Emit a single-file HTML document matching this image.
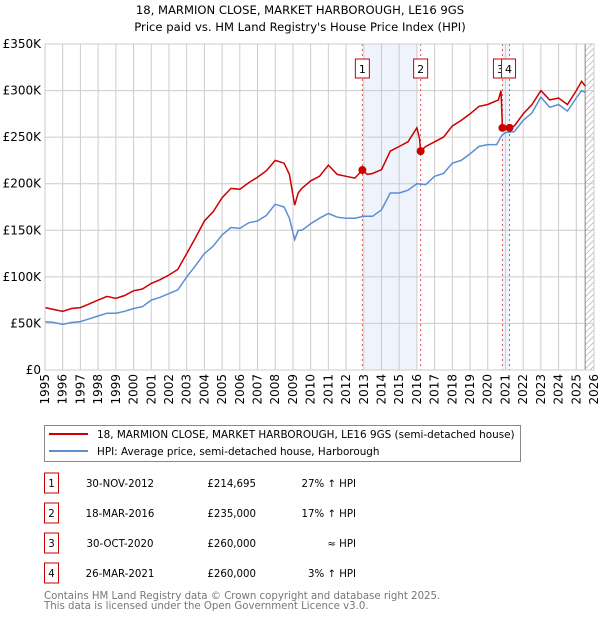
<!DOCTYPE html>
<html><head><meta charset="utf-8"><style>
body{margin:0;background:#fff;font-family:"DejaVu Sans","Liberation Sans",sans-serif;}
svg{display:block}
</style></head><body>
<svg id="c" width="600" height="620" xmlns="http://www.w3.org/2000/svg" font-family="DejaVu Sans, Liberation Sans, sans-serif">
<text x="300" y="14" text-anchor="middle" font-size="11.6">18, MARMION CLOSE, MARKET HARBOROUGH, LE16 9GS</text>
<text x="300" y="31" text-anchor="middle" font-size="11.6">Price paid vs. HM Land Registry's House Price Index (HPI)</text>
<g id="plot"></g>
<g>
<rect x="44.5" y="425.5" width="476" height="36" fill="#fff" stroke="#888"/>
<line x1="49" y1="434" x2="88" y2="434" stroke="#cc0000" stroke-width="2"/>
<text x="97" y="438" font-size="10.4">18, MARMION CLOSE, MARKET HARBOROUGH, LE16 9GS (semi-detached house)</text>
<line x1="49" y1="451" x2="88" y2="451" stroke="#5b8fd4" stroke-width="2"/>
<text x="97" y="455" font-size="10.4">HPI: Average price, semi-detached house, Harborough</text>
</g>
<g id="table" font-size="10.2"></g>
<text x="44" y="599" font-size="10.2" fill="#777">Contains HM Land Registry data © Crown copyright and database right 2025.</text>
<text x="44" y="609" font-size="10.2" fill="#777">This data is licensed under the Open Government Licence v3.0.</text>
</svg>
<script>
const yTicks=[0,50,100,150,200,250,300,350];
const years=[1995,1996,1997,1998,1999,2000,2001,2002,2003,2004,2005,2006,2007,2008,2009,2010,2011,2012,2013,2014,2015,2016,2017,2018,2019,2020,2021,2022,2023,2024,2025,2026];
const hpiT=[1995,1995.5,1996,1996.5,1997,1997.5,1998,1998.5,1999,1999.5,2000,2000.5,2001,2001.5,2002,2002.5,2003,2003.5,2004,2004.5,2005,2005.5,2006,2006.5,2007,2007.5,2008,2008.5,2008.8,2009.1,2009.3,2009.5,2010,2010.5,2011,2011.5,2012,2012.5,2013,2013.5,2014,2014.5,2015,2015.5,2016,2016.5,2017,2017.5,2018,2018.5,2019,2019.5,2020,2020.5,2020.8,2021,2021.5,2022,2022.5,2023,2023.5,2024,2024.5,2025,2025.3,2025.5];
const hpiV=[52,51,49,51,52,55,58,61,61,63,66,68,75,78,82,86,100,112,125,133,145,153,152,158,160,166,178,175,163,140,150,150,157,163,168,164,163,163,165,165,172,190,190,193,200,199,208,211,222,225,232,240,242,242,252,255,256,268,276,293,282,285,278,292,300,298];
const priceT=[1995,1995.5,1996,1996.5,1997,1997.5,1998,1998.5,1999,1999.5,2000,2000.5,2001,2001.5,2002,2002.5,2003,2003.5,2004,2004.5,2005,2005.5,2006,2006.5,2007,2007.5,2008,2008.5,2008.8,2009.1,2009.3,2009.5,2010,2010.5,2011,2011.5,2012,2012.5,2012.92,2013.2,2013.5,2014,2014.5,2015,2015.5,2016,2016.15,2016.21,2016.5,2017,2017.5,2018,2018.5,2019,2019.5,2020,2020.6,2020.75,2020.83,2021.23,2021.5,2022,2022.5,2023,2023.5,2024,2024.5,2025,2025.3,2025.5];
const priceV=[67,65,63,66,67,71,75,79,77,80,85,87,93,97,102,108,125,142,160,170,185,195,194,201,207,214,225,222,210,177,190,195,203,208,220,210,208,206,214.7,210,211,215,235,240,245,260,248,235,240,245,250,262,268,275,283,285,290,300,260,260,262,275,285,300,290,292,285,300,310,305];
const saleLabels=["1","2","3","4"];
const saleT=[2012.92,2016.21,2020.83,2021.23];
const saleV=[214.695,235,260,260];
const saleDates=["30-NOV-2012","18-MAR-2016","30-OCT-2020","26-MAR-2021"];
const salePrices=["£214,695","£235,000","£260,000","£260,000"];
const saleHpi=["27% ↑ HPI","17% ↑ HPI","≈ HPI","3% ↑ HPI"];
const NS="http://www.w3.org/2000/svg";
const L=45,R=594,T=44,B=370;
const x=t=>L+(t-1995)/(2026-1995)*(R-L);
const y=v=>B-v/350*(B-T);
function mk(tag,at,parent){const e=document.createElementNS(NS,tag);for(const k in at)e.setAttribute(k,at[k]);parent.appendChild(e);return e;}
const P=document.getElementById('plot');
let s=mk('rect',{x:x(2013),y:T,width:x(2016)-x(2013),height:B-T,fill:'#eef3fc'},P);


s=mk('rect',{x:x(2020.83),y:T,width:x(2021.23)-x(2020.83),height:B-T,fill:'#eef3fc'},P);


const defs=mk('defs',{},P);
const pat=mk('pattern',{id:'h',width:6,height:6,patternUnits:'userSpaceOnUse'},defs);
mk('path',{d:'M0,6 L6,0',stroke:'#bbb','stroke-width':0.8},pat);
s=mk('rect',{x:x(2025.5),y:T,width:R-x(2025.5),height:B-T,fill:'url(#h)'},P);


yTicks.forEach(v=>{
 const g=mk('line',{x1:L,x2:R,y1:y(v),y2:y(v),stroke:'#ccc'},P);
 
 
 const t=mk('text',{x:L-4,y:y(v)+4,'text-anchor':'end','font-size':12},P);
 t.textContent=v===0?'£0':'£'+v+'K';
 
 
});
years.forEach(yr=>{
 const g=mk('line',{x1:x(yr),x2:x(yr),y1:T,y2:B,stroke:'#ccc'},P);
 
 
 const t=mk('text',{transform:`translate(${x(yr)+4},${B+4}) rotate(-90)`,'text-anchor':'end','font-size':12},P);
 t.textContent=yr;
 
 
});
const ln=mk('line',{x1:x(2025.5),x2:x(2025.5),y1:T,y2:B,stroke:'#888'},P);


saleT.forEach((t,i)=>{
 const l=mk('line',{x1:x(t),x2:x(t),y1:T,y2:B,stroke:'#e05050','stroke-dasharray':'2,3'},P);
 
 
});
let d=hpiT.map((t,i)=>(i?'L':'M')+x(t).toFixed(1)+','+y(hpiV[i]).toFixed(1)).join('');
let p=mk('path',{d,fill:'none',stroke:'#5b8fd4','stroke-width':1.5},P);


d=priceT.map((t,i)=>(i?'L':'M')+x(t).toFixed(1)+','+y(priceV[i]).toFixed(1)).join('');
p=mk('path',{d,fill:'none',stroke:'#cc0000','stroke-width':1.5},P);


saleT.forEach((t,i)=>{
 const c=mk('circle',{cx:x(t),cy:y(saleV[i]),r:4,fill:'#cc0000'},P);
 
 
 const bx=x(t)-7+(i===2?-2:0)+(i===3?-1:0);
 const r=mk('rect',{x:bx,y:59,width:14,height:19,fill:'#fff',stroke:'#cc0000'},P);
 
 
 const tx=mk('text',{x:bx+7,y:73,'text-anchor':'middle','font-size':11},P);
 tx.textContent=saleLabels[i];
 
 
});
mk('rect',{x:L,y:T,width:R-L,height:B-T,fill:'none',stroke:'#ccc'},P);
const TB=document.getElementById('table');
saleLabels.forEach((lab,i)=>{
 const cy=483+i*30;
 const r=mk('rect',{x:44.5,y:cy-10,width:14,height:20,fill:'#fff',stroke:'#cc0000'},TB);
 
 
 let t=mk('text',{x:51.5,y:cy+4,'text-anchor':'middle'},TB);t.textContent=lab;
 
 
 t=mk('text',{x:120,y:cy+4,'text-anchor':'middle'},TB);t.textContent=saleDates[i];
 
 
 t=mk('text',{x:256,y:cy+4,'text-anchor':'end'},TB);t.textContent=salePrices[i];
 
 
 t=mk('text',{x:356,y:cy+4,'text-anchor':'end'},TB);t.textContent=saleHpi[i];
 
 
});
</script>
</body></html>
